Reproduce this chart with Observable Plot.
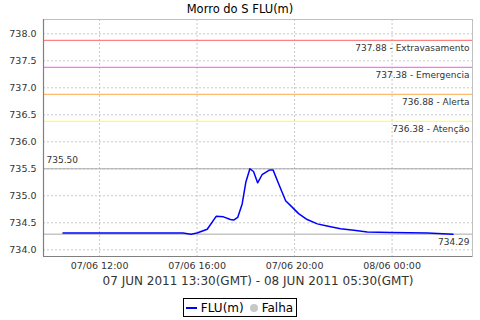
<!DOCTYPE html>
<html>
<head>
<meta charset="utf-8">
<script src="https://cdn.jsdelivr.net/npm/d3@7"></script>
<script src="https://cdn.jsdelivr.net/npm/@observablehq/plot@0.6"></script>
<style>
  html, body { margin: 0; padding: 0; background: #fff; }
  body { width: 480px; height: 320px; overflow: hidden; font-family: "DejaVu Sans", sans-serif; }
  #title { height: 18px; line-height: 18px; text-align: center; font-size: 11.5px; color: #000; }
  #chart svg { display: block; }
  #legend { display: flex; justify-content: center; margin-top: 6px; }
  #legend .box { border: 1px solid #000; height: 17px; display: flex; align-items: center; padding: 0 3px 0 2px; font-size: 12px; color: #000; }
  .sw-line { width: 11px; height: 2px; background: #0000ff; margin-right: 4px; }
  .sw-dot { width: 8px; height: 8px; border-radius: 50%; background: #c8c8c8; margin: 0 4px 0 6px; }
</style>
</head>
<body>
<div id="title">Morro do S FLU(m)</div>
<div id="chart"></div>
<div id="legend"><div class="box"><span class="sw-line"></span>FLU(m)<span class="sw-dot"></span>Falha</div></div>
<script>
// Local times (displayed as in the reference)
const times = [
  "2011-06-07T10:30", "2011-06-07T11:30", "2011-06-07T12:30", "2011-06-07T13:30",
  "2011-06-07T14:30", "2011-06-07T15:25", "2011-06-07T15:45", "2011-06-07T16:00",
  "2011-06-07T16:25", "2011-06-07T16:47", "2011-06-07T17:05", "2011-06-07T17:22",
  "2011-06-07T17:30", "2011-06-07T17:40", "2011-06-07T17:51", "2011-06-07T18:00",
  "2011-06-07T18:10", "2011-06-07T18:19", "2011-06-07T18:29", "2011-06-07T18:40",
  "2011-06-07T18:48", "2011-06-07T18:59", "2011-06-07T19:07", "2011-06-07T19:21",
  "2011-06-07T19:38", "2011-06-07T19:54", "2011-06-07T20:10", "2011-06-07T20:31",
  "2011-06-07T20:56", "2011-06-07T21:20", "2011-06-07T21:53", "2011-06-07T22:26",
  "2011-06-07T22:59", "2011-06-07T23:56", "2011-06-08T01:27", "2011-06-08T02:30"
];
const levels = [
  734.31, 734.31, 734.31, 734.31,
  734.31, 734.31, 734.29, 734.31,
  734.38, 734.62, 734.61, 734.56,
  734.55, 734.60, 734.85, 735.25,
  735.50, 735.45, 735.24, 735.39,
  735.43, 735.48, 735.48, 735.22,
  734.91, 734.79, 734.67, 734.56,
  734.48, 734.44, 734.39, 734.36,
  734.33, 734.32, 734.31, 734.29
];

const thresholdValues = [737.88, 737.38, 736.88, 736.38];
const thresholdNames = ["Extravasamento", "Emergencia", "Alerta", "Atenção"];
const thresholdColors = ["#ff8080", "#ff70ff", "#ffb870", "#ffff50"];

const maxLevel = 735.50;
const lastLevel = 734.29;

const yTicks = [734.0, 734.5, 735.0, 735.5, 736.0, 736.5, 737.0, 737.5, 738.0];
const xDomainStr = ["2011-06-07T09:42", "2011-06-08T03:18"];
const yDomain = [733.876, 738.265];
const axisTitle = "07 JUN 2011 13:30(GMT) - 08 JUN 2011 05:30(GMT)";

const parse = s => new Date(s + ":00Z");
const series = times.map((t, i) => ({t: parse(t), v: levels[i]}));
const thresholds = thresholdValues.map((v, i) => ({v, name: thresholdNames[i], color: thresholdColors[i]}));
const xDomain = xDomainStr.map(parse);

const plot = Plot.plot({
  width: 480,
  height: 274,
  marginTop: 1,
  marginLeft: 43,
  marginRight: 8,
  marginBottom: 36,
  style: {fontFamily: "DejaVu Sans, sans-serif", fontSize: "9.5px", color: "#333"},
  x: {type: "utc", domain: xDomain, label: null},
  y: {domain: yDomain, label: null},
  marks: [
    Plot.gridY(yTicks, {stroke: "#c8c8c8", strokeOpacity: 1, strokeDasharray: "2,2"}),
    Plot.gridX({ticks: d3.utcHour.every(4), stroke: "#c8c8c8", strokeOpacity: 1, strokeDasharray: "2,2"}),
    Plot.frame({stroke: "#c0c0c0"}),
    Plot.ruleY(thresholds, {y: "v", stroke: "color", strokeWidth: 1.2}),
    Plot.ruleY([maxLevel, lastLevel], {stroke: "#a8a8a8", strokeWidth: 1}),
    Plot.text(thresholds, {y: "v", text: d => `${d.v.toFixed(2)} - ${d.name}`, frameAnchor: "right", textAnchor: "end", dx: -3, dy: 8, fontSize: 9, fill: "#333"}),
    Plot.text([maxLevel], {y: d => d, text: d => d.toFixed(2), frameAnchor: "left", textAnchor: "start", dx: 3, dy: -9, fontSize: 9, fill: "#333"}),
    Plot.text([lastLevel], {y: d => d, text: d => d.toFixed(2), frameAnchor: "right", textAnchor: "end", dx: -3, dy: 8, fontSize: 9, fill: "#333"}),
    Plot.line(series, {x: "t", y: "v", stroke: "#0000ff", strokeWidth: 1.5}),
    Plot.ruleX([xDomain[0]], {stroke: "#808080", strokeWidth: 1.2}),
    Plot.ruleY([yDomain[0]], {stroke: "#808080", strokeWidth: 1.2}),
    Plot.axisY(yTicks, {tickSize: 0, tickPadding: 7, tickFormat: d => d.toFixed(1), fill: "#333"}),
    Plot.axisX({ticks: d3.utcHour.every(4), tickSize: 0, tickPadding: 6, tickFormat: d3.utcFormat("%d/%m %H:%M"), fill: "#333", label: null}),
    Plot.text([axisTitle], {frameAnchor: "bottom", dy: 28, fontSize: 12, fill: "#333"})
  ]
});
document.getElementById("chart").appendChild(plot);
</script>
</body>
</html>
